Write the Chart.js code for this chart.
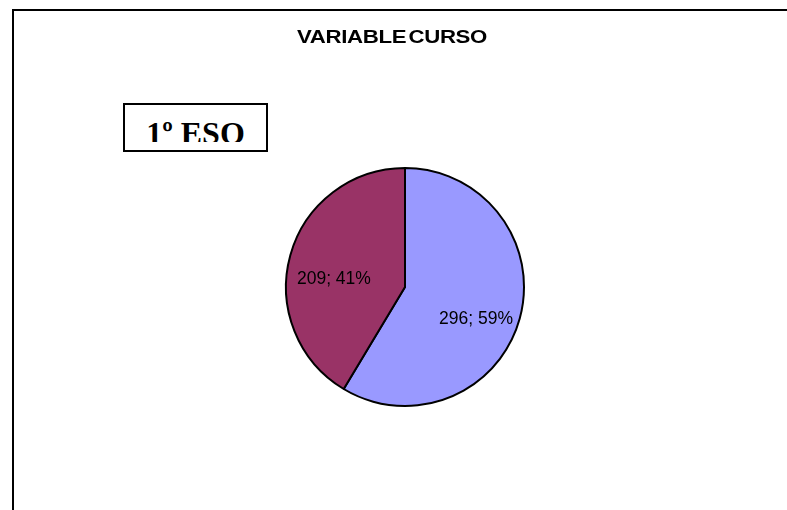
<!DOCTYPE html>
<html>
<head>
<meta charset="utf-8">
<script src="https://cdn.jsdelivr.net/npm/chart.js@4/dist/chart.umd.min.js"></script>
<style>
  html, body { margin: 0; padding: 0; background: #fff; }
  #wrap { position: relative; width: 787px; height: 510px; overflow: hidden; }
  #frame {
    position: absolute; left: 12px; top: 9px; width: 900px; height: 700px;
    border: 2px solid #000;
  }
  #title {
    position: absolute; left: 0; top: 28px; width: 784px;
    text-align: center; font: bold 19px "Liberation Sans", Arial, sans-serif;
    line-height: 18px; color: #000; transform: scaleX(1.17); transform-origin: 392px 9px;
    letter-spacing: -0.3px; word-spacing: -3px; white-space: nowrap;
  }
  #curso {
    position: absolute; left: 123px; top: 103px; width: 141px; height: 45px;
    border: 2px solid #000; background: #fff;
  }
  #curso .clip { position: absolute; left: 0; right: 0; top: 0; height: 37px; overflow: hidden; }
  #curso .txt {
    position: absolute; left: 0; right: 0; top: 12px; text-align: center;
    font: bold 32px "Liberation Serif", "Times New Roman", serif; line-height: 32px; color: #000;
    white-space: nowrap;
  }
  canvas { position: absolute; left: 0; top: 0; }
</style>
</head>
<body>
<div id="wrap">
  <div id="frame"></div>
  <canvas id="chart" width="787" height="510"></canvas>
  <div id="title">VARIABLE CURSO</div>
  <div id="curso"><div class="clip"><div class="txt">1º ESO</div></div></div>
</div>
<script>
// datos de la gráfica
const categorias = ["Grupo 1", "Grupo 2"]
const valores = [296, 209]
const colores = ["#9999FF", "#993366"]

// etiquetas "valor; porcentaje" dentro de cada sector
const pieLabels = {
  id: "pieLabels",
  afterDatasetsDraw(chart) {
    const meta = chart.getDatasetMeta(0)
    const total = valores.reduce((a, b) => a + b, 0)
    const ctx = chart.ctx
    const size = 17.5
    ctx.save()
    ctx.font = `${size}px 'Liberation Sans', Arial, sans-serif`
    ctx.fillStyle = "#000"
    ctx.textAlign = "center"
    ctx.textBaseline = "top"
    meta.data.forEach((arc, i) => {
      const { x, y, startAngle, endAngle, outerRadius } = arc.getProps(["x", "y", "startAngle", "endAngle", "outerRadius"], true)
      const mid = (startAngle + endAngle) / 2
      const r = outerRadius * 0.62
      const pct = Math.round(valores[i] / total * 100)
      ctx.fillText(`${valores[i]}; ${pct}%`, x + Math.cos(mid) * r, y + Math.sin(mid) * r + size * 0.2)
    })
    ctx.restore()
  }
}

new Chart(document.getElementById("chart"), {
  type: "pie",
  data: {
    labels: categorias,
    datasets: [{
      data: valores,
      backgroundColor: colores,
      borderColor: "#000",
      borderWidth: 2,
      hoverOffset: 0
    }]
  },
  options: {
    responsive: false,
    animation: false,
    layout: { padding: { top: 167, bottom: 103, left: 23, right: 0 } },
    plugins: {
      legend: { display: false },
      tooltip: { enabled: false },
      title: { display: false }
    }
  },
  plugins: [pieLabels]
})
</script>
</body>
</html>
